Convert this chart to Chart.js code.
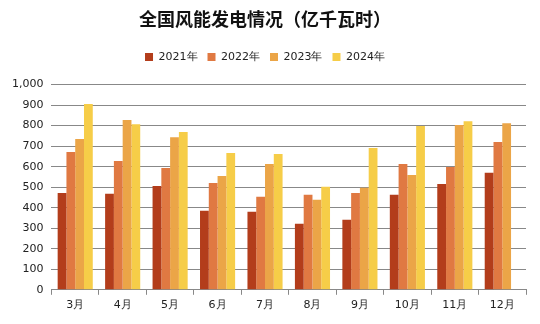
<!DOCTYPE html>
<html>
<head>
<meta charset="utf-8">
<script src="https://cdn.jsdelivr.net/npm/chart.js@4"></script>
<style>
  html, body { margin: 0; padding: 0; background: #fff; }
  #wrap { width: 540px; height: 324px; }
</style>
</head>
<body>
<div id="wrap"><canvas id="windChart"></canvas></div>
<script>
// 全国风能发电情况 data
const months = ["3月", "4月", "5月", "6月", "7月", "8月", "9月", "10月", "11月", "12月"];
const years = ["2021年", "2022年", "2023年", "2024年"];
const data2021 = [472, 468, 506, 385, 380, 322, 341, 463, 516, 570];
const data2022 = [671, 628, 594, 521, 453, 463, 472, 613, 599, 720];
const data2023 = [735, 827, 744, 555, 613, 439, 497, 560, 803, 812];
const data2024 = [905, 807, 769, 667, 662, 502, 691, 798, 822, null];
const colors = ["#B33D1B", "#E07942", "#EBA547", "#F6CD48"];

// extra space under the legend
const legendGap = {
    id: "legendGap",
    beforeInit(chart) {
        const fit = chart.legend.fit;
        chart.legend.fit = function () {
            fit.bind(chart.legend)();
            this.height += 12;
        };
    },
};

const ctx = document.getElementById("windChart").getContext("2d");
new Chart(ctx, {
    type: "bar",
    data: {
        labels: months,
        datasets: [data2021, data2022, data2023, data2024].map((d, i) => ({
            label: years[i],
            data: d,
            backgroundColor: colors[i],
            borderWidth: 0,
            barPercentage: 1,
            categoryPercentage: 0.74,
        })),
    },
    options: {
        responsive: true,
        maintainAspectRatio: false,
        animation: false,
        layout: { padding: { left: 4, right: 14, top: 6, bottom: 8 } },
        scales: {
            x: {
                grid: {
                    offset: true,
                    drawOnChartArea: false,
                    drawTicks: true,
                    tickLength: 5,
                    color: "#888",
                },
                border: { color: "#888" },
                ticks: {
                    color: "#222",
                    padding: 4,
                    font: { family: "DejaVu Sans", size: 11 },
                },
            },
            y: {
                min: 0,
                max: 1000,
                grid: { color: "#888", drawTicks: false },
                border: { display: false },
                ticks: {
                    stepSize: 100,
                    padding: 8,
                    color: "#222",
                    font: { family: "DejaVu Sans", size: 11 },
                    callback: (v) => v.toLocaleString("en-US"),
                },
            },
        },
        plugins: {
            legend: {
                position: "top",
                labels: {
                    boxWidth: 8,
                    boxHeight: 8,
                    padding: 10,
                    color: "#222",
                    font: { family: "DejaVu Sans", size: 11 },
                },
            },
            title: {
                display: true,
                text: "全国风能发电情况（亿千瓦时）",
                color: "#111",
                font: { family: "Noto Sans CJK SC", size: 18, weight: "bold" },
                padding: { top: 2, bottom: 12 },
            },
        },
    },
    plugins: [legendGap],
});
</script>
</body>
</html>
